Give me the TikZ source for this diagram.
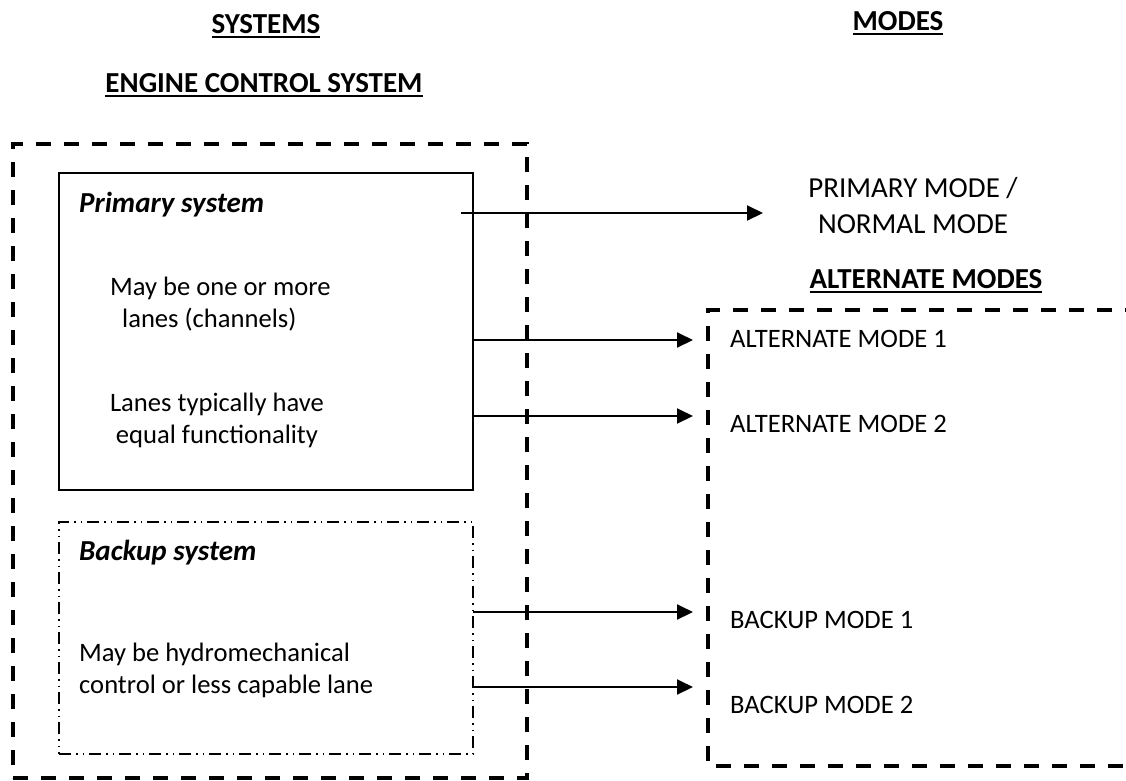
\documentclass[tikz,border=0pt]{standalone}
\usepackage{fontspec}
\setmainfont{Carlito}
\usetikzlibrary{arrows.meta,calc}
\newcommand{\ulbox}[1]{\setbox0\hbox{#1}\rlap{\rule[-5pt]{\wd0}{2.5pt}}\box0}
\tikzset{
  small/.style={font=\fontsize{26.6}{32}\selectfont, inner sep=0pt},
  big/.style={font=\fontsize{29}{36}\selectfont, inner sep=0pt},
  title/.style={font=\fontsize{29}{36}\selectfont\bfseries, inner sep=0pt, anchor=base},
  bigbi/.style={font=\fontsize{29}{36}\selectfont\bfseries\itshape, inner sep=0pt, anchor=base west},
  thickdash/.style={line width=4pt, dash pattern=on 15pt off 13pt},
  outerbox/.style={draw, thickdash, inner sep=0pt, outer sep=0pt},
  primbox/.style={draw, line width=2pt, inner sep=0pt, outer sep=0pt},
  backbox/.style={draw, line width=1.5pt, dash pattern=on 12pt off 5pt on 1.5pt off 5pt on 1.5pt off 5pt, inner sep=0pt, outer sep=0pt},
  conn/.style={line width=2pt, -{Triangle[length=16pt,width=15pt]}},
}
\begin{document}
\begin{tikzpicture}[x=1pt,y=-1pt]
\useasboundingbox (0,0) rectangle (1126,780);
% boxes
\node[primbox, minimum width=414pt, minimum height=317pt] (prim) at (266,331.5) {};
\node[backbox, minimum width=414pt, minimum height=232pt] (back) at (266,638) {};
\node[outerbox, minimum width=514pt, minimum height=634pt] (ecsbox) at (270,461) {};
\draw[thickdash] (1140,310) -- (708,310) -- (708,766) -- (1140,766);
% titles
\node[title] (sys) at (266,33) {\ulbox{SYSTEMS}};
\node[title] (modes) at (898,30) {\ulbox{MODES}};
\node[title] (ecs) at (264,92) {\ulbox{ENGINE CONTROL SYSTEM}};
\node[title] (altmodes) at (926,288) {\ulbox{ALTERNATE MODES}};
% mode texts
\node[big, anchor=base, align=center] (pm) at (913,233) {PRIMARY MODE /\\NORMAL MODE};
\node[small, anchor=base west] (am1) at (730,347) {ALTERNATE MODE 1};
\node[small, anchor=base west] (am2) at (730,432) {ALTERNATE MODE 2};
\node[small, anchor=base west] (bm1) at (730,628) {BACKUP MODE 1};
\node[small, anchor=base west] (bm2) at (730,713) {BACKUP MODE 2};
% system texts
\node[bigbi] (pst) at (79,212) {Primary system};
\node[small, anchor=base west, align=left] (pt1) at (110,327) {May be one or more\\\hspace*{12pt}lanes (channels)};
\node[small, anchor=base, align=center] (pt2) at (217,443) {Lanes typically have\\equal functionality};
\node[bigbi] (bst) at (79,560) {Backup system};
\node[small, anchor=base west, align=left] (bt) at (79,693) {May be hydromechanical\\control or less capable lane};
% connectors
\coordinate (tp) at (763,213);
\coordinate (ta1) at (693,340);
\coordinate (ta2) at (693,416);
\coordinate (tb1) at (693,612);
\coordinate (tb2) at (693,687);
\draw[conn] ($(prim.east |- tp)+(-12,0)$) -- (tp);
\draw[conn] (prim.east |- ta1) -- (ta1);
\draw[conn] (prim.east |- ta2) -- (ta2);
\draw[conn] (back.east |- tb1) -- (tb1);
\draw[conn] (back.east |- tb2) -- (tb2);
\end{tikzpicture}
\end{document}
